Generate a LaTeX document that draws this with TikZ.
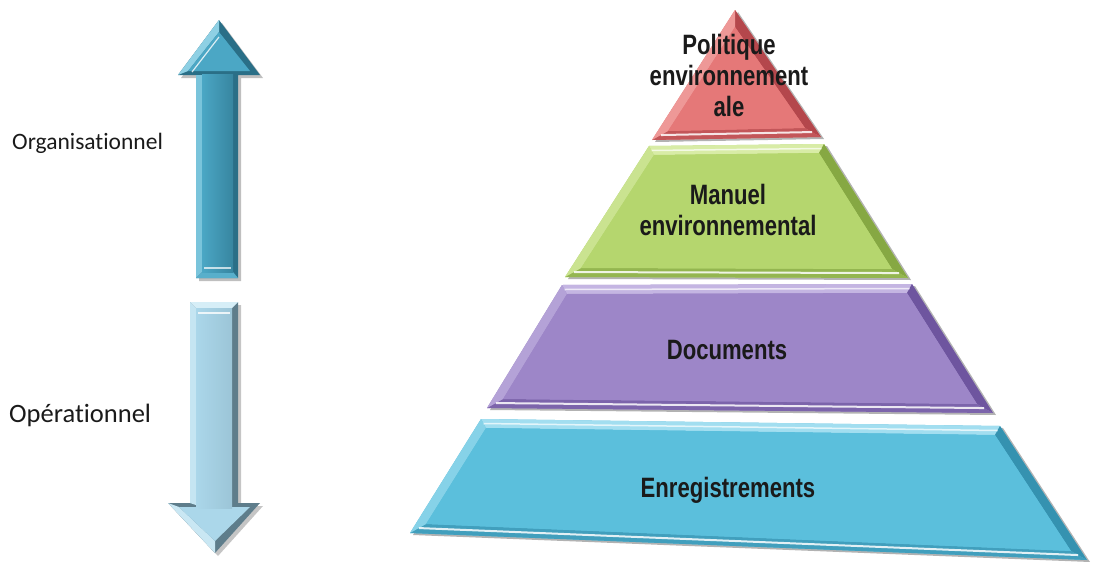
\documentclass[tikz,border=0pt]{standalone}
\usepackage{fontspec}
\setmainfont{Liberation Sans}
\newfontfamily\pyrfont[FakeStretch=0.79]{Liberation Sans}
\newfontfamily\labfont[Ligatures=NoCommon]{Carlito}
\usetikzlibrary{calc}
\definecolor{redM}{HTML}{E57878}
\definecolor{redL}{HTML}{F4AEAC}
\definecolor{redD}{HTML}{B4474C}
\definecolor{grnM}{HTML}{B5D66E}
\definecolor{grnL}{HTML}{D8ECA6}
\definecolor{grnD}{HTML}{86A843}
\definecolor{purM}{HTML}{9D86C8}
\definecolor{purL}{HTML}{C4B5E2}
\definecolor{purD}{HTML}{6E559F}
\definecolor{bluM}{HTML}{5BBFDC}
\definecolor{bluL}{HTML}{A2DEF0}
\definecolor{bluD}{HTML}{3592B0}
\definecolor{upM}{HTML}{4BA7C5}
\definecolor{upD}{HTML}{2A6F87}
\definecolor{upL}{HTML}{8ED0E4}
\definecolor{dnM}{HTML}{ABD7EA}
\definecolor{dnD}{HTML}{5E7D8B}
\definecolor{dnL}{HTML}{D6EEF7}
\definecolor{txt}{HTML}{1A1A1A}
\newcommand\drawband[4]{%
  \fill[black!55,opacity=0.55] ($(#1o1)+(3,2)$)--($(#1o2)+(3,2)$)--($(#1o3)+(3,2)$)--($(#1o4)+(3,2)$)--cycle;
  \fill[#2] (#1o1)--(#1o2)--(#1o3)--(#1o4)--cycle;
  \fill[#3] (#1o1)--(#1o2)--(#1i2)--(#1i1)--cycle;
  \fill[#4] (#1o2)--(#1o3)--(#1i3)--(#1i2)--cycle;
  \fill[#4!70!#2] (#1o3)--(#1o4)--(#1i4)--(#1i3)--cycle;
  \fill[#3!60!#2] (#1o4)--(#1o1)--(#1i1)--(#1i4)--cycle;
  \fill[#2] (#1i1)--(#1i2)--(#1i3)--(#1i4)--cycle;
  \draw[white,opacity=0.85,line width=2] ($(#1i4)!0.45!(#1o4)$) -- ($(#1i3)!0.45!(#1o3)$);
  \draw[white,opacity=0.7,line width=1.5] ($(#1i1)!0.5!(#1o1)$) -- ($(#1i2)!0.5!(#1o2)$);
}
\tikzset{
  pyrtext/.style={font=\pyrfont\bfseries\fontsize{28}{31}\selectfont, text=txt, align=center, inner sep=0},
  labtext/.style={font=\labfont, text=txt, anchor=west, inner sep=0},
}
\begin{document}
\begin{tikzpicture}[x=1pt,y=-1pt]
\useasboundingbox (0,0) rectangle (1095,562);
% ---------- pyramid ----------
% red (top triangle)
\coordinate (Ro1) at (735,10); \coordinate (Ro2) at (735,10);
\coordinate (Ro3) at (821,137); \coordinate (Ro4) at (652,140);
\coordinate (Ri1) at (735,27); \coordinate (Ri2) at (735,27);
\coordinate (Ri3) at ($(Ro3)+(-16,-9)$); \coordinate (Ri4) at ($(Ro4)+(16,-9)$);
% green
\coordinate (Go1) at (649,146); \coordinate (Go2) at (824,144);
\coordinate (Go3) at (908,278); \coordinate (Go4) at (565,277);
% purple
\coordinate (Po1) at (562,285); \coordinate (Po2) at (912,284);
\coordinate (Po3) at (993,413); \coordinate (Po4) at (487,408);
% blue
\coordinate (Bo1) at (481,419); \coordinate (Bo2) at (1000,426);
\coordinate (Bo3) at (1087,560); \coordinate (Bo4) at (410,533);
\foreach \p in {G,P,B}{
  \coordinate (\p i1) at ($(\p o1)+(5,9)$);
  \coordinate (\p i2) at ($(\p o2)+(-5,9)$);
  \coordinate (\p i3) at ($(\p o3)+(-16,-9)$);
  \coordinate (\p i4) at ($(\p o4)+(16,-9)$);
}
\drawband{B}{bluM}{bluL}{bluD}
\drawband{P}{purM}{purL}{purD}
\drawband{G}{grnM}{grnL}{grnD}
\drawband{R}{redM}{redL}{redD}
\node[pyrtext] (pol) at (729,75) {Politique\\environnement\\ale};
\node[pyrtext] (man) at (728,210) {Manuel\\environnemental};
\node[pyrtext] (doc) at (727,350) {Documents};
\node[pyrtext] (enr) at (728,490) {Enregistrements};
% ---------- up arrow ----------
\fill[black!50,opacity=0.5] (181,78)--(222,23)--(263,78)--(241,78)--(241,281)--(199,281)--(199,78)--cycle;
\fill[upD] (178,75) coordinate (ua1)--(219,20) coordinate (utip)--(260,75) coordinate (ua2)--(238,75)--(238,278) coordinate (ub2)--(196,278) coordinate (ub1)--(196,75)--cycle;
\fill[upL] (178,75)--(219,20)--(219,32)--(188,71)--cycle;
\fill[upL!70!upM] (196,75)--(196,278)--(202,272)--(202,75)--cycle;
\fill[upM!80!upL] (196,278)--(238,278)--(233,272)--(202,272)--cycle;
\fill[upM] (188,71)--(219,32)--(250,71)--cycle;
\shade[left color=upM, middle color=upL!70!upM, right color=upD!60!upM] (202,74) rectangle (233,272);
\draw[white,opacity=0.7,line width=1.2] (204,268)--(231,268);
\draw[white,opacity=0.8,line width=1.2] (192,72)--(219,37);
% ---------- down arrow ----------
\fill[black!45,opacity=0.5] (193,305)--(241,305)--(241,506)--(263,506)--(218,556)--(171,506)--(193,506)--cycle;
\fill[dnD] (190,302) coordinate (da1)--(238,302) coordinate (da2)--(238,503)--(260,503)--(215,553) coordinate (dtip)--(168,503)--(190,503)--cycle;
\fill[dnL] (190,302)--(238,302)--(232,308)--(196,308)--cycle;
\fill[dnL!60!dnM] (190,302)--(196,308)--(196,505)--(190,503)--cycle;
\fill[dnL!70!dnM] (168,503)--(215,553)--(215,541)--(179,507)--cycle;
\fill[dnM] (179,507)--(215,541)--(250,507)--cycle;
\shade[left color=dnM, middle color=dnL, right color=dnM!80!dnD] (196,308) rectangle (232,508);
\draw[white,opacity=0.8,line width=1.2] (198,313)--(230,313);
% ---------- side labels ----------
\node[labtext,font=\labfont\fontsize{23.5}{28}\selectfont] (org) at (12,143) {Organisationnel};
\node[labtext,font=\labfont\fontsize{26.5}{31}\selectfont] (ope) at (9,415) {Opérationnel};
\end{tikzpicture}
\end{document}
